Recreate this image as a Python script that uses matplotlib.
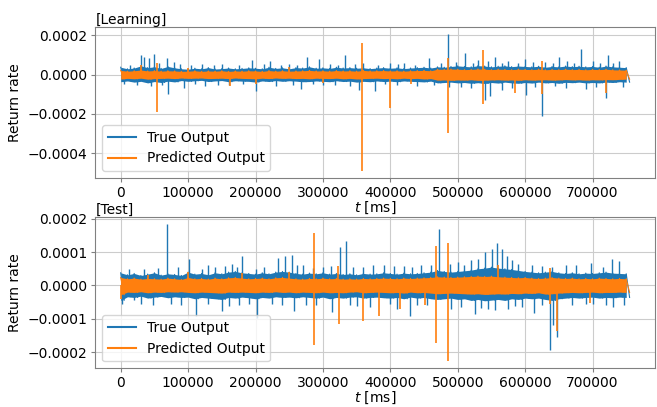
import numpy as np
import matplotlib
matplotlib.use("Agg")
import matplotlib.pyplot as plt

# time axis of the envelope samples [ms], one sample every 10000 ms
t_bins = np.arange(0, 760000, 10000)

# ---- [Learning] : band envelopes in units of 1e-6 ----
learn_true_hi = [38, 30, 34, 45, 36, 40, 32, 42, 35, 30,
                 28, 33, 30, 36, 29, 31, 34, 30, 32, 35,
                 33, 30, 38, 32, 35, 30, 36, 34, 40, 33,
                 35, 32, 38, 34, 36, 33, 35, 31, 34, 36,
                 33, 35, 31, 34, 36, 38, 34, 40, 38, 42,
                 45, 42, 40, 46, 44, 40, 43, 45, 41, 44,
                 42, 40, 43, 38, 42, 40, 44, 41, 43, 40,
                 42, 38, 44, 40, 38, 36]
learn_true_lo = [-36, -32, -38, -34, -42, -35, -40, -33, -37, -30,
                 -34, -31, -29, -35, -32, -30, -36, -31, -33, -34,
                 -38, -32, -35, -30, -34, -31, -33, -36, -35, -32,
                 -34, -36, -31, -35, -33, -38, -34, -36, -32, -35,
                 -33, -36, -32, -34, -35, -37, -33, -42, -40, -38,
                 -42, -40, -44, -41, -45, -40, -43, -38, -42, -44,
                 -40, -43, -38, -42, -40, -44, -39, -41, -38, -42,
                 -40, -42, -38, -40, -36, -38]
learn_pred_hi = [22, 18, 20, 24, 19, 21, 18, 20, 19, 17,
                 18, 20, 17, 19, 18, 20, 17, 19, 18, 20,
                 19, 17, 21, 18, 20, 18, 19, 20, 22, 19,
                 20, 18, 21, 19, 20, 18, 22, 19, 20, 21,
                 19, 20, 18, 20, 21, 22, 20, 28, 27, 29,
                 28, 26, 27, 29, 28, 26, 28, 27, 26, 28,
                 27, 26, 28, 25, 27, 26, 28, 26, 27, 25,
                 27, 26, 28, 25, 24, 23]
learn_pred_lo = [-22, -19, -21, -18, -23, -20, -19, -18, -20, -17,
                 -19, -18, -17, -20, -19, -18, -20, -17, -19, -20,
                 -21, -18, -20, -17, -19, -18, -20, -19, -21, -18,
                 -19, -20, -18, -21, -19, -22, -20, -19, -18, -20,
                 -19, -21, -18, -20, -19, -22, -20, -28, -27, -29,
                 -27, -28, -26, -29, -28, -27, -26, -28, -27, -29,
                 -26, -28, -27, -26, -28, -27, -25, -27, -26, -28,
                 -26, -27, -25, -26, -24, -23]
learn_true_spk_t = [29600, 34500, 42000, 49400, 56800, 69000, 79000, 120000, 150000,
                    175000, 195000, 222000, 249000, 276500, 294000, 333000, 360000,
                    399000, 420000, 456800, 475000, 485400, 511000, 530000, 556000,
                    575000, 600000, 630000, 650000, 683000, 700000, 722400, 740000,
                    14000, 88000, 104000, 138000, 212000, 238000, 262000, 310000,
                    322000, 347000, 381000, 412000, 437000, 497000, 522000, 545000,
                    566000, 590000, 612000, 641000, 662000, 672000, 711000, 731000,
                    5000, 45000, 69500, 94000, 125000, 160000, 200000, 230000, 268000,
                    300000, 340000, 353500, 377800, 410000, 440000, 487000, 520000,
                    541000, 548000, 565000, 602000, 624700, 660000, 690000, 719500,
                    745000, 24000, 62000, 110000, 145000, 182000, 255000, 285000,
                    318000, 392000, 465000, 505000, 580000, 615000, 645000, 705000]
learn_true_spk_v = [103, 91, 85, 106, 60, 85, 65, 55, 52,
                    50, 77, 70, 55, 91, 80, 103, 60,
                    62, 58, 85, 60, 209, 110, 75, 90,
                    70, 80, 65, 90, 133, 70, 103, 70,
                    50, 55, 48, 50, 52, 48, 50, 55,
                    50, 52, 50, 54, 50, 65, 60, 70,
                    62, 60, 66, 60, 72, 58, 62, 60,
                    -50, -60, -99, -68, -60, -55, -82, -60, -72,
                    -55, -60, -77, -85, -55, -60, -65, -70,
                    -128, -110, -80, -103, -209, -70, -75, -120,
                    -65, -52, -55, -50, -52, -50, -55, -50,
                    -52, -50, -55, -65, -68, -62, -60, -64]
learn_pred_spk_t = [30000, 54300, 54300, 100000, 161500, 200000, 250000, 300000,
                    358500, 358500, 399000, 430000, 485400, 485400, 537300, 537300,
                    585000, 624700, 624700, 719500]
learn_pred_spk_v = [51, 59, -188, 35, -56, -45, 40, -40,
                    163, -492, -171, -50, 85, -296, 128, -150,
                    -93, 72, -100, -94]

# ---- [Test] : band envelopes in units of 1e-6 ----
test_true_hi = [38, 32, 36, 30, 34, 38, 31, 35, 33, 30,
                40, 34, 36, 32, 38, 35, 40, 42, 38, 36,
                34, 38, 35, 40, 42, 40, 36, 34, 37, 35,
                38, 34, 36, 33, 35, 32, 36, 34, 35, 38,
                36, 34, 37, 35, 36, 38, 40, 45, 42, 40,
                42, 44, 46, 50, 52, 55, 52, 50, 48, 45,
                42, 40, 38, 40, 42, 38, 36, 38, 35, 37,
                36, 38, 40, 37, 36, 35]
test_true_lo = [-45, -34, -36, -32, -38, -35, -33, -37, -34, -36,
                -35, -40, -36, -38, -40, -42, -36, -38, -35, -37,
                -40, -36, -38, -34, -36, -35, -37, -34, -36, -38,
                -35, -40, -36, -38, -35, -34, -38, -36, -35, -37,
                -38, -36, -40, -35, -38, -36, -40, -42, -40, -38,
                -42, -40, -45, -42, -46, -44, -42, -45, -40, -42,
                -38, -40, -38, -42, -45, -40, -38, -36, -38, -36,
                -35, -38, -36, -37, -35, -36]
test_pred_hi = [24, 20, 22, 19, 21, 20, 19, 22, 20, 18,
                24, 20, 21, 19, 22, 20, 23, 24, 22, 20,
                21, 22, 20, 23, 24, 22, 20, 19, 21, 20,
                22, 20, 21, 19, 20, 19, 21, 20, 21, 22,
                21, 20, 22, 21, 22, 23, 24, 26, 25, 24,
                25, 26, 27, 28, 27, 28, 26, 25, 24, 23,
                24, 22, 21, 22, 24, 22, 21, 22, 20, 21,
                20, 22, 21, 20, 21, 20]
test_pred_lo = [-28, -20, -21, -19, -22, -20, -21, -19, -20, -19,
                -21, -22, -20, -21, -22, -23, -20, -21, -20, -21,
                -22, -20, -21, -19, -21, -20, -22, -20, -21, -22,
                -20, -22, -21, -22, -20, -19, -22, -21, -20, -21,
                -22, -21, -23, -20, -22, -21, -23, -25, -24, -23,
                -24, -25, -26, -25, -27, -26, -25, -26, -24, -25,
                -23, -24, -22, -26, -25, -23, -22, -21, -22, -21,
                -20, -22, -21, -21, -20, -21]
test_true_spk_t = [68100, 101000, 120000, 140000, 165000, 172000, 180000, 200000,
                   234000, 244000, 254000, 270000, 300000, 326000, 334800, 360000,
                   390000, 420000, 445000, 472000, 500000, 520000, 540000, 550600,
                   559000, 565500, 573000, 590000, 610000, 640000, 660000, 697800,
                   715000, 728400, 740000, 12000, 35000, 55000, 85000, 130000,
                   155000, 212000, 262000, 285000, 312000, 345000, 375000, 405000,
                   432000, 460000, 488000, 510000, 530000, 580000, 625000, 675000,
                   2000, 20000, 48000, 75000, 111000, 130000, 149600, 175000, 202500,
                   225000, 257000, 290000, 313000, 340000, 370000, 400000, 410000,
                   428600, 455000, 490000, 526000, 545000, 574000, 595000, 613300,
                   637000, 642000, 648000, 670000, 700000, 730000, 746000,
                   30000, 90000, 160000, 190000, 240000, 275000, 350000, 440000,
                   505000, 535000, 555000, 585000, 625000, 690000, 720000]
test_true_spk_v = [184, 78, 50, 55, 63, 55, 88, 50,
                   83, 88, 90, 60, 55, 116, 132, 55,
                   60, 58, 62, 169, 70, 75, 100, 110,
                   126, 110, 88, 65, 60, 55, 60, 68,
                   55, 78, 73, 48, 50, 52, 55, 60,
                   58, 55, 62, 52, 58, 55, 60, 58,
                   55, 60, 65, 62, 80, 75, 58, 60,
                   -57, -45, -60, -55, -92, -55, -77, -60, -97,
                   -55, -77, -60, -80, -60, -65, -55, -70,
                   -92, -60, -70, -87, -70, -72, -65, -82,
                   -193, -118, -155, -60, -55, -65, -60,
                   -55, -58, -62, -55, -60, -58, -62, -60,
                   -65, -68, -75, -62, -58, -55, -58]
test_pred_spk_t = [1000, 40000, 100000, 180000, 250000, 287400, 287400, 322000,
                   323500, 359500, 383700, 414000, 452000, 467200, 467200, 485400,
                   485400, 560000, 637000, 637000, 648000, 697000]
test_pred_spk_v = [-40, 30, 40, 38, 40, 157, -178, 58,
                   -116, -106, -92, -72, -60, 118, -173, 128,
                   -228, 60, 53, -57, -138, -52]


def band(hi, lo):
    # dense zig-zag through the band envelope
    t = []
    y = []
    for tb, h, l in zip(t_bins, hi, lo):
        t += [tb, tb + 5000]
        y += [h, l]
    return np.array(t), np.array(y, dtype=float) * 1e-6


plt.rcParams["font.size"] = 10
fig, axes = plt.subplots(2, 1, figsize=(6.57, 4.07), dpi=100)
plt.subplots_adjust(left=0.145, right=0.997, top=0.934, bottom=0.095, hspace=0.26)

panels = [
    ("[Learning]", learn_true_hi, learn_true_lo, learn_true_spk_t, learn_true_spk_v,
     learn_pred_hi, learn_pred_lo, learn_pred_spk_t, learn_pred_spk_v),
    ("[Test]", test_true_hi, test_true_lo, test_true_spk_t, test_true_spk_v,
     test_pred_hi, test_pred_lo, test_pred_spk_t, test_pred_spk_v),
]

blue = "#1f77b4"
orange = "#ff7f0e"
for ax, (title, th, tl, tst, tsv, ph, pl, pst, psv) in zip(axes, panels):
    tt, ty = band(th, tl)
    pt, py = band(ph, pl)
    ax.fill_between(t_bins, np.array(tl) * 1e-6, np.array(th) * 1e-6,
                    color=blue, lw=0, zorder=2.0)
    ax.plot(tt, ty, color=blue, lw=0.8, label="True Output", zorder=2.1)
    ax.vlines(tst, 0, np.array(tsv) * 1e-6, color=blue, lw=1.0, zorder=2.2)
    ax.fill_between(t_bins, np.array(pl) * 1e-6, np.array(ph) * 1e-6,
                    color=orange, lw=0, zorder=2.3)
    ax.plot(pt, py, color=orange, lw=0.8, label="Predicted Output", zorder=2.4)
    ax.vlines(pst, 0, np.array(psv) * 1e-6, color=orange, lw=1.2, zorder=2.5)
    ax.set_title(title, loc="left", fontsize=10, pad=2)
    ax.set_ylabel("Return rate")
    ax.set_xlabel("$t$ [ms]", labelpad=0)
    ax.grid(True, color="#cccccc", lw=0.8)
    ax.set_axisbelow(True)
    for s in ax.spines.values():
        s.set_color("#808080")
    ax.tick_params(color="#808080", length=3, pad=2.5)
    leg = ax.legend(loc="lower left")
    leg.set_zorder(5)
    for h in leg.get_lines():
        h.set_linewidth(1.5)

axes[0].set_yticks([0.0002, 0.0, -0.0002, -0.0004])
axes[0].set_yticklabels(["0.0002", "0.0000", "\u22120.0002", "\u22120.0004"])
axes[1].set_yticks([0.0002, 0.0001, 0.0, -0.0001, -0.0002])
axes[1].set_yticklabels(["0.0002", "0.0001", "0.0000", "\u22120.0001", "\u22120.0002"])

plt.savefig("out.png", dpi=100)
